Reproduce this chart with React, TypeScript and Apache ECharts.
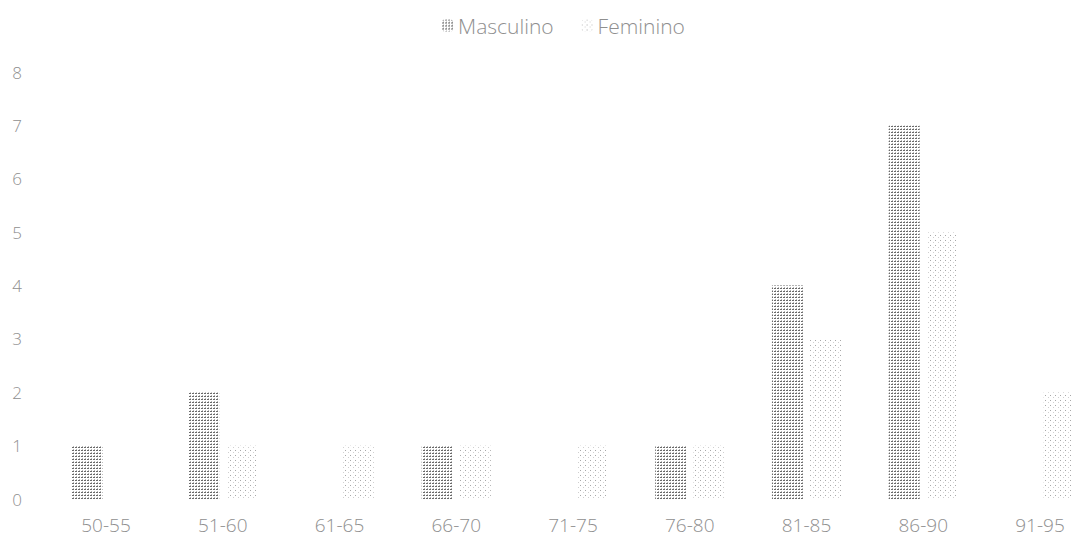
import React, { useEffect, useRef } from "react";
import * as echarts from "echarts";

const categories = ["50-55", "51-60", "61-65", "66-70", "71-75", "76-80", "81-85", "86-90", "91-95"];
const masculino = [1, 2, 0, 1, 0, 1, 4, 7, 0];
const feminino = [0, 1, 1, 1, 1, 1, 3, 5, 2];
const seriesNames = ["Masculino", "Feminino"];

function makePattern(kind: "m" | "f") {
  const c = document.createElement("canvas");
  if (kind === "m") {
    c.width = 3;
    c.height = 3;
    const ctx = c.getContext("2d")!;
    ctx.fillStyle = "#ffffff";
    ctx.fillRect(0, 0, 3, 3);
    ctx.fillStyle = "#6a6a6a";
    ctx.fillRect(0, 0, 2, 1);
    ctx.fillStyle = "#b5b5b5";
    ctx.fillRect(1, 2, 1, 1);
  } else {
    c.width = 5;
    c.height = 5;
    const ctx = c.getContext("2d")!;
    ctx.fillStyle = "#ffffff";
    ctx.fillRect(0, 0, 5, 5);
    ctx.fillStyle = "#a8a8a8";
    ctx.fillRect(0, 0, 1, 1);
    ctx.fillStyle = "#cfcfcf";
    ctx.fillRect(3, 2, 1, 1);
  }
  return c;
}

export default function App() {
  const ref = useRef<HTMLDivElement>(null);
  useEffect(() => {
    if (!ref.current) return;
    const chart = echarts.init(ref.current, null, { renderer: "svg" });
    const mPat = { image: makePattern("m"), repeat: "repeat" };
    const fPat = { image: makePattern("f"), repeat: "repeat" };
    const font = "'Open Sans', 'Liberation Sans', sans-serif";
    chart.setOption({
      animation: false,
      backgroundColor: "#ffffff",
      legend: {
        top: 10,
        left: 437,
        itemWidth: 11,
        itemHeight: 12,
        itemGap: 28,
        textStyle: { fontFamily: font, fontSize: 21, color: "#8f8f8f", fontWeight: 300 },
        data: seriesNames,
      },
      grid: { left: 106, right: 33, top: 72, bottom: 46, containLabel: false },
      xAxis: {
        type: "category",
        data: categories,
        boundaryGap: false,
        axisLine: { show: false },
        axisTick: { show: false },
        axisLabel: { margin: 16, fontFamily: font, fontSize: 19, color: "#8f8f8f", fontWeight: 300 },
      },
      yAxis: {
        type: "value",
        min: 0,
        max: 8,
        interval: 1,
        splitLine: { show: false },
        axisLine: { show: false },
        axisTick: { show: false },
        axisLabel: { margin: 84, fontFamily: font, fontSize: 17, color: "#8f8f8f", fontWeight: 300 },
      },
      series: [
        {
          name: seriesNames[0],
          type: "bar",
          data: masculino,
          barWidth: 31,
          barGap: "23%",
          itemStyle: { color: mPat },
        },
        {
          name: seriesNames[1],
          type: "bar",
          data: feminino,
          barWidth: 31,
          itemStyle: { color: fPat },
        },
      ],
    });
    return () => chart.dispose();
  }, []);
  return <div ref={ref} style={{ width: 1073, height: 545, position: "absolute", left: 0, top: 0 }} />;
}
